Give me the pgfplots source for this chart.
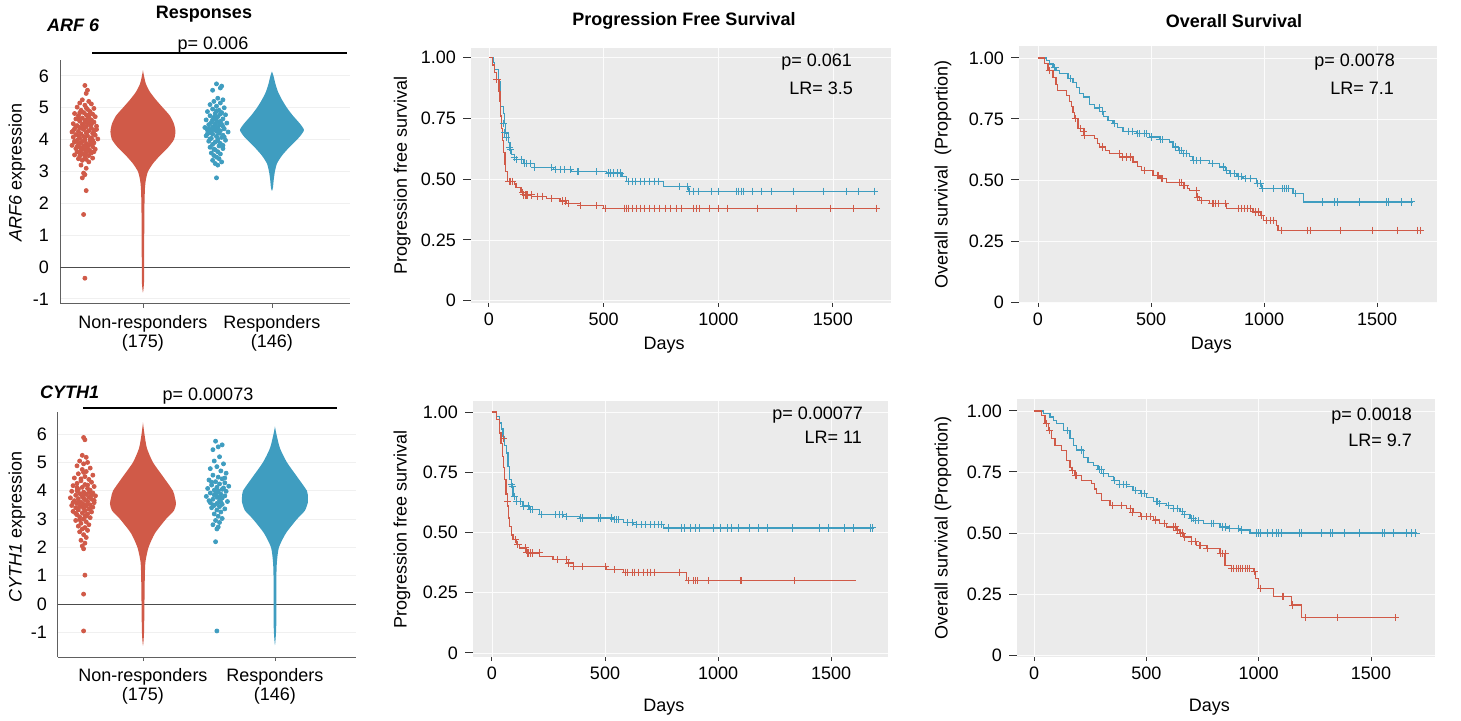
\documentclass[border=0pt]{standalone}
\usepackage{fontspec}
\setmainfont{Liberation Sans}
\usepackage{pgfplots}
\pgfplotsset{compat=1.18}

\definecolor{kmred}{HTML}{D05A48}
\definecolor{kmblue}{HTML}{3F9DC0}
\definecolor{panelbg}{HTML}{EBEBEB}
\definecolor{tickcol}{HTML}{333333}

\pgfplotsset{
  every axis/.append style={font=\fontsize{9}{10.8}\selectfont},
  km/.style={
    scale only axis, anchor=south west,
    xtick={0,500,1000,1500}, xticklabels={0,500,1000,1500},
    ytick={0,0.25,0.5,0.75,1}, yticklabels={0,0.25,0.50,0.75,1.00},
    axis background/.style={fill=panelbg},
    axis line style={draw=none},
    grid=major, major grid style={white!85!panelbg, line width=0.35pt},
    tick align=outside, tick pos=left,
    major tick length=4pt,
    xtick style={tickcol, line width=0.5pt, /pgfplots/major tick length=2pt},
    ytick style={tickcol, line width=0.5pt},
    ticklabel style={text=black},
    xticklabel style={yshift=2.5pt},
    xlabel={Days},
    /pgf/number format/assume math mode=true,
  },
  line/.style={const plot, line width=0.6pt, mark=none},
  cens/.style={only marks, mark=+, mark size=1.8pt, mark options={line width=0.5pt}},
  vio/.style={
    scale only axis, anchor=south west,
    axis x line*=bottom, axis y line*=left,
    axis line style={gray!75!black, line width=0.5pt},
    xtick={1,2}, xticklabels={{Non-responders\\(175)},{Responders\\(146)}},
    xticklabel style={align=center, font=\fontsize{9}{9.5}\selectfont},
    ytick={-1,0,...,6},
    tick align=outside, major tick length=2pt,
    xtick style={gray!75!black}, ytick style={draw=none},
    ymajorgrids, major grid style={gray!12, line width=0.5pt},
    /pgf/number format/assume math mode=true,
  },
  dots/.style={only marks, mark=*, mark size=1pt},
}

\begin{document}
\begin{tikzpicture}[font=\fontsize{9}{10.8}\selectfont]
\useasboundingbox (0,0) rectangle (730.5pt,-360.5pt);

% ---------------- A: ARF6 violin ----------------
\begin{axis}[vio, at={(30pt,-152pt)}, width=145pt, height=122pt,
  xmin=0.357, xmax=2.605, ymin=-1.16, ymax=6.5,
  ylabel={\textit{ARF6} expression},
  ylabel style={at={(axis description cs:-0.148,0.54)}, anchor=center}]
\addplot[gray!60!black, line width=0.5pt] coordinates {(0.357,0) (2.605,0)};
\addplot[fill=kmred, draw=none, smooth, tension=0.4] coordinates {
 (1,6.18)(1.008,6.0)(1.023,5.75)(1.054,5.5)(1.101,5.25)(1.155,5.0)(1.209,4.75)
 (1.240,4.5)(1.252,4.25)(1.240,4.0)(1.194,3.75)(1.132,3.5)(1.078,3.25)(1.039,3.0)
 (1.023,2.75)(1.016,2.5)(1.012,2.0)(1.010,1.0)(1.009,0.0)(1.008,-0.5)(1,-0.8)
 (0.992,-0.5)(0.991,0.0)(0.990,1.0)(0.988,2.0)(0.984,2.5)(0.977,2.75)(0.961,3.0)
 (0.922,3.25)(0.868,3.5)(0.806,3.75)(0.760,4.0)(0.748,4.25)(0.760,4.5)(0.791,4.75)
 (0.845,5.0)(0.899,5.25)(0.946,5.5)(0.977,5.75)(0.992,6.0)(1,6.18)};
\addplot[fill=kmblue, draw=none, smooth, tension=0.4] coordinates {
 (2,6.14)(2.012,6.0)(2.027,5.75)(2.047,5.5)(2.078,5.25)(2.116,5.0)(2.163,4.75)
 (2.217,4.5)(2.248,4.3)(2.217,4.1)(2.194,4.0)(2.132,3.75)(2.078,3.5)(2.039,3.25)
 (2.023,3.0)(2.014,2.75)(2.008,2.5)(2,2.39)
 (1.992,2.5)(1.986,2.75)(1.977,3.0)(1.961,3.25)(1.922,3.5)(1.868,3.75)(1.806,4.0)
 (1.783,4.1)(1.752,4.3)(1.783,4.5)(1.837,4.75)(1.884,5.0)(1.922,5.25)(1.953,5.5)
 (1.973,5.75)(1.988,6.0)(2,6.14)};
\addplot[dots, kmred] coordinates {
 (0.55,5.70)(0.57,5.55)(0.56,5.45)(0.53,5.25)(0.58,5.20)(0.51,5.15)(0.60,5.12)(0.55,5.08)
 (0.49,5.02)(0.62,4.98)(0.57,4.95)(0.52,4.92)(0.59,4.88)(0.54,4.85)(0.47,4.82)(0.61,4.80)
 (0.56,4.78)(0.50,4.75)(0.63,4.72)(0.58,4.70)(0.53,4.68)(0.48,4.65)(0.60,4.62)(0.55,4.60)
 (0.51,4.58)(0.62,4.55)(0.57,4.52)(0.46,4.50)(0.53,4.48)(0.59,4.46)(0.49,4.44)(0.64,4.42)
 (0.56,4.40)(0.51,4.38)(0.60,4.36)(0.47,4.34)(0.54,4.32)(0.62,4.30)(0.58,4.28)(0.50,4.26)
 (0.45,4.24)(0.56,4.22)(0.61,4.20)(0.52,4.18)(0.48,4.16)(0.63,4.14)(0.57,4.12)(0.54,4.10)
 (0.46,4.08)(0.60,4.06)(0.51,4.04)(0.65,4.02)(0.55,4.00)(0.49,3.98)(0.59,3.96)(0.53,3.94)
 (0.47,3.92)(0.62,3.90)(0.56,3.88)(0.50,3.86)(0.58,3.84)(0.45,3.82)(0.54,3.80)(0.61,3.78)
 (0.51,3.76)(0.57,3.74)(0.48,3.72)(0.63,3.70)(0.55,3.68)(0.52,3.66)(0.59,3.64)(0.49,3.62)
 (0.56,3.60)(0.60,3.58)(0.53,3.55)(0.47,3.52)(0.58,3.50)(0.51,3.48)(0.55,3.45)(0.61,3.42)
 (0.50,3.40)(0.56,3.38)(0.53,3.35)(0.58,3.30)(0.52,3.20)(0.56,3.10)(0.54,2.95)(0.55,2.90)
 (0.53,2.80)(0.56,2.40)(0.54,1.65)(0.55,-0.35)
 (0.52,4.90)(0.58,4.76)(0.50,4.64)(0.55,4.54)(0.60,4.48)(0.48,4.40)(0.53,4.35)(0.57,4.25)
 (0.62,4.18)(0.50,4.12)(0.55,4.05)(0.59,4.00)(0.47,3.95)(0.52,3.90)(0.60,3.86)(0.56,3.82)
 (0.49,3.78)(0.53,3.72)(0.58,3.68)(0.62,3.62)(0.51,3.57)(0.55,3.52)(0.59,4.58)(0.46,4.28)
 (0.64,4.32)(0.61,3.98)(0.54,4.44)(0.57,4.66)(0.51,4.84)(0.56,5.00)};
\addplot[dots, kmblue] coordinates {
 (1.57,5.75)(1.61,5.68)(1.60,5.62)(1.54,5.55)(1.58,5.30)(1.62,5.25)(1.55,5.20)(1.60,5.15)
 (1.52,5.10)(1.57,5.05)(1.63,5.00)(1.54,4.96)(1.59,4.92)(1.50,4.88)(1.61,4.85)(1.56,4.82)
 (1.64,4.78)(1.52,4.75)(1.58,4.72)(1.55,4.68)(1.62,4.65)(1.49,4.62)(1.57,4.60)(1.60,4.57)
 (1.53,4.54)(1.65,4.52)(1.56,4.50)(1.51,4.47)(1.59,4.45)(1.62,4.42)(1.54,4.40)(1.48,4.38)
 (1.58,4.36)(1.63,4.34)(1.55,4.32)(1.50,4.30)(1.60,4.28)(1.57,4.26)(1.66,4.24)(1.52,4.22)
 (1.59,4.20)(1.54,4.17)(1.62,4.14)(1.49,4.12)(1.57,4.10)(1.61,4.07)(1.53,4.04)(1.58,4.01)
 (1.64,3.98)(1.51,3.95)(1.56,3.92)(1.60,3.88)(1.54,3.85)(1.59,3.80)(1.52,3.76)(1.62,3.72)
 (1.56,3.68)(1.58,3.62)(1.53,3.58)(1.60,3.55)(1.55,3.50)(1.57,3.45)(1.59,3.40)(1.54,3.35)
 (1.61,3.30)(1.56,3.25)(1.58,3.20)(1.57,2.80)
 (1.55,4.70)(1.61,4.48)(1.51,4.35)(1.59,4.55)(1.53,4.27)(1.63,4.08)(1.56,4.44)(1.50,4.18)
 (1.58,3.96)(1.54,4.62)(1.60,4.80)(1.57,4.90)(1.52,4.02)(1.62,3.82)(1.55,3.70)};
\end{axis}

% ---------------- D: CYTH1 violin ----------------
\begin{axis}[vio, at={(29pt,-328.5pt)}, width=149pt, height=122.5pt,
  xmin=0.356, xmax=2.614, ymin=-1.87, ymax=6.78,
  ylabel={\textit{CYTH1} expression},
  ylabel style={at={(axis description cs:-0.138,0.53)}, anchor=center}]
\addplot[gray!60!black, line width=0.5pt] coordinates {(0.356,0) (2.614,0)};
\addplot[fill=kmred, draw=none, smooth, tension=0.4] coordinates {
 (1,6.41)(1.011,6.0)(1.030,5.5)(1.076,5.0)(1.152,4.5)(1.227,4.0)(1.242,3.75)(1.250,3.55)
 (1.235,3.3)(1.174,3.0)(1.091,2.5)(1.042,2.0)(1.019,1.5)(1.014,1.0)(1.011,0.0)(1.008,-1.0)(1,-1.47)
 (0.992,-1.0)(0.989,0.0)(0.986,1.0)(0.981,1.5)(0.958,2.0)(0.909,2.5)(0.826,3.0)(0.765,3.3)
 (0.750,3.55)(0.758,3.75)(0.773,4.0)(0.848,4.5)(0.924,5.0)(0.970,5.5)(0.989,6.0)(1,6.41)};
\addplot[fill=kmblue, draw=none, smooth, tension=0.4] coordinates {
 (2,6.27)(2.011,6.0)(2.038,5.5)(2.091,5.0)(2.167,4.5)(2.242,4.0)(2.250,3.75)(2.250,3.6)
 (2.227,3.3)(2.167,3.0)(2.083,2.5)(2.030,2.0)(2.015,1.5)(2.011,1.0)(2.010,0.0)(2.011,-0.5)
 (2.008,-1.0)(2,-1.45)
 (1.992,-1.0)(1.989,-0.5)(1.990,0.0)(1.989,1.0)(1.985,1.5)(1.970,2.0)(1.917,2.5)(1.833,3.0)
 (1.773,3.3)(1.750,3.6)(1.750,3.75)(1.758,4.0)(1.833,4.5)(1.909,5.0)(1.962,5.5)(1.989,6.0)(2,6.27)};
\addplot[dots, kmred] coordinates {
 (0.55,5.88)(0.56,5.80)(0.54,5.25)(0.57,5.18)(0.52,5.05)(0.58,5.00)(0.55,4.95)(0.50,4.88)
 (0.60,4.80)(0.54,4.75)(0.57,4.68)(0.51,4.60)(0.62,4.55)(0.56,4.50)(0.48,4.45)(0.59,4.40)
 (0.53,4.35)(0.61,4.30)(0.50,4.26)(0.56,4.22)(0.47,4.18)(0.63,4.15)(0.54,4.12)(0.58,4.08)
 (0.51,4.05)(0.60,4.02)(0.46,3.98)(0.55,3.95)(0.62,3.92)(0.52,3.90)(0.57,3.87)(0.49,3.84)
 (0.64,3.82)(0.54,3.80)(0.59,3.77)(0.45,3.75)(0.51,3.72)(0.61,3.70)(0.56,3.68)(0.48,3.65)
 (0.58,3.62)(0.53,3.60)(0.63,3.58)(0.50,3.55)(0.55,3.52)(0.60,3.50)(0.46,3.48)(0.57,3.46)
 (0.52,3.44)(0.62,3.42)(0.49,3.40)(0.55,3.38)(0.59,3.35)(0.51,3.32)(0.56,3.30)(0.47,3.27)
 (0.61,3.25)(0.54,3.22)(0.58,3.18)(0.50,3.15)(0.56,3.12)(0.52,3.08)(0.60,3.05)(0.55,3.00)
 (0.49,2.95)(0.57,2.90)(0.53,2.85)(0.59,2.80)(0.51,2.75)(0.56,2.70)(0.54,2.65)(0.58,2.60)
 (0.52,2.55)(0.55,2.45)(0.57,2.35)(0.53,2.25)(0.56,2.15)(0.54,2.05)(0.55,1.95)(0.56,1.02)
 (0.55,0.35)(0.55,-0.95)
 (0.53,4.42)(0.58,4.20)(0.50,4.00)(0.61,3.85)(0.55,3.74)(0.47,3.58)(0.58,3.54)(0.53,3.46)
 (0.60,3.36)(0.51,3.60)(0.56,3.90)(0.63,3.66)(0.49,3.20)(0.57,3.10)(0.52,2.98)(0.55,4.65)
 (0.50,4.12)(0.59,3.94)};
\addplot[dots, kmblue] coordinates {
 (1.55,5.75)(1.60,5.62)(1.57,5.55)(1.53,5.45)(1.58,5.20)(1.54,5.05)(1.61,4.95)(1.56,4.85)
 (1.51,4.78)(1.59,4.70)(1.63,4.62)(1.53,4.55)(1.57,4.48)(1.60,4.42)(1.50,4.38)(1.55,4.32)
 (1.62,4.28)(1.58,4.24)(1.52,4.20)(1.65,4.16)(1.56,4.12)(1.49,4.08)(1.60,4.05)(1.54,4.02)
 (1.63,3.98)(1.57,3.95)(1.51,3.92)(1.59,3.88)(1.55,3.85)(1.62,3.82)(1.48,3.80)(1.56,3.77)
 (1.60,3.74)(1.53,3.70)(1.58,3.66)(1.64,3.62)(1.51,3.58)(1.56,3.55)(1.60,3.52)(1.54,3.48)
 (1.58,3.44)(1.52,3.40)(1.62,3.36)(1.56,3.32)(1.59,3.25)(1.54,3.18)(1.57,3.10)(1.60,3.02)
 (1.55,2.95)(1.58,2.88)(1.53,2.80)(1.57,2.72)(1.56,2.65)(1.55,2.20)(1.56,-0.95)
 (1.52,4.30)(1.61,4.10)(1.55,3.90)(1.50,3.65)(1.59,3.60)(1.54,3.85)(1.62,4.45)(1.57,4.00)
 (1.53,3.50)(1.58,3.78)};
\end{axis}

% ---------------- B: PFS ARF6 ----------------
\begin{axis}[km, at={(235.5pt,-151.5pt)}, width=210pt, height=127.5pt,
  xmin=-78, xmax=1753, ymin=-0.01, ymax=1.04,
  ylabel={Progression free survival},
  ylabel style={at={(axis description cs:-0.164,0.5)}, anchor=center},
  xlabel style={at={(axis description cs:0.46,0)}, anchor=center, yshift=-21pt}]
\addplot[line, kmblue] coordinates {
 (0,1)(20,0.98)(26,0.95)(41,0.90)(48,0.85)(51,0.80)(62,0.77)(68,0.73)(74,0.69)(84,0.65)
 (92,0.62)(99,0.60)(113,0.58)(150,0.566)(200,0.548)(280,0.54)(360,0.53)(513,0.525)
 (580,0.51)(600,0.49)(760,0.47)(869,0.45)(1688,0.45)};
\addplot[cens, kmblue] coordinates {
 (64,0.73)(70,0.69)(78,0.67)(90,0.63)(95,0.62)(110,0.59)(120,0.58)(140,0.58)(155,0.566)
 (165,0.566)(180,0.566)(200,0.548)(275,0.548)(290,0.54)(310,0.54)(330,0.54)(355,0.54)
 (385,0.53)(390,0.53)(470,0.53)(520,0.525)(530,0.525)(545,0.525)(560,0.525)(575,0.525)
 (610,0.49)(625,0.49)(640,0.49)(660,0.49)(680,0.49)(700,0.49)(720,0.49)(740,0.49)
 (830,0.47)(865,0.47)(875,0.45)(890,0.45)(915,0.45)(970,0.45)(1000,0.45)(1080,0.45)
 (1090,0.45)(1100,0.45)(1110,0.45)(1150,0.45)(1190,0.45)(1230,0.45)(1330,0.45)(1460,0.45)
 (1560,0.45)(1610,0.45)(1682,0.45)};
\addplot[line, kmred] coordinates {
 (0,1)(15,0.97)(26,0.94)(33,0.91)(44,0.86)(48,0.82)(52,0.76)(56,0.71)(60,0.66)(65,0.61)
 (70,0.56)(74,0.53)(80,0.49)(110,0.48)(118,0.465)(140,0.445)(150,0.435)(186,0.43)
 (250,0.42)(310,0.41)(340,0.40)(400,0.39)(500,0.38)(1690,0.38)};
\addplot[cens, kmred] coordinates {
 (35,0.91)(88,0.49)(95,0.49)(102,0.49)(148,0.445)(153,0.435)(158,0.435)(162,0.435)
 (168,0.435)(185,0.435)(210,0.43)(235,0.43)(275,0.42)(320,0.41)(335,0.41)(345,0.40)
 (400,0.39)(470,0.39)(510,0.38)(590,0.38)(600,0.38)(610,0.38)(625,0.38)(645,0.38)
 (660,0.38)(680,0.38)(700,0.38)(720,0.38)(745,0.38)(770,0.38)(790,0.38)(820,0.38)
 (840,0.38)(890,0.38)(905,0.38)(920,0.38)(960,0.38)(1000,0.38)(1040,0.38)(1170,0.38)
 (1340,0.38)(1490,0.38)(1590,0.38)(1690,0.38)};
\end{axis}

% ---------------- C: OS ARF6 ----------------
\begin{axis}[km, at={(509.5pt,-151.5pt)}, width=209pt, height=128.5pt,
  xmin=-84, xmax=1765, ymin=-0.004, ymax=1.049,
  ylabel={Overall survival\ \ (Proportion)},
  ylabel style={at={(axis description cs:-0.182,0.5)}, anchor=center},
  xlabel style={at={(axis description cs:0.46,0)}, anchor=center, yshift=-21pt}]
\addplot[line, kmblue] coordinates {
 (0,1)(37,0.99)(50,0.975)(66,0.96)(80,0.95)(96,0.936)(133,0.915)(155,0.90)(170,0.88)
 (184,0.854)(200,0.84)(229,0.81)(250,0.795)(273,0.78)(288,0.76)(310,0.745)(332,0.73)
 (350,0.715)(376,0.70)(435,0.69)(494,0.676)(540,0.665)(583,0.656)(597,0.635)(620,0.62)
 (642,0.61)(670,0.595)(686,0.58)(760,0.567)(804,0.553)(830,0.54)(848,0.526)(880,0.515)
 (907,0.505)(966,0.485)(988,0.464)(1128,0.444)(1173,0.41)(1659,0.41)};
\addplot[cens, kmblue] coordinates {
 (75,0.96)(145,0.915)(270,0.795)(285,0.78)(340,0.73)(400,0.70)(420,0.70)(440,0.69)
 (450,0.69)(470,0.69)(480,0.69)(500,0.676)(540,0.665)(550,0.665)(610,0.635)(625,0.62)
 (635,0.62)(645,0.61)(655,0.61)(690,0.58)(700,0.58)(720,0.58)(770,0.567)(820,0.553)
 (835,0.54)(850,0.526)(870,0.526)(885,0.515)(900,0.515)(920,0.505)(940,0.505)(970,0.485)
 (985,0.485)(995,0.464)(1040,0.464)(1080,0.464)(1090,0.464)(1100,0.464)(1110,0.464)
 (1140,0.444)(1260,0.41)(1310,0.41)(1325,0.41)(1420,0.41)(1540,0.41)(1550,0.41)
 (1610,0.41)(1650,0.41)};
\addplot[line, kmred] coordinates {
 (0,1)(29,0.977)(44,0.95)(66,0.92)(80,0.89)(88,0.867)(125,0.847)(140,0.82)(147,0.80)
 (155,0.775)(162,0.751)(177,0.71)(206,0.683)(251,0.669)(262,0.65)(273,0.635)(300,0.62)
 (317,0.608)(361,0.594)(420,0.574)(440,0.555)(457,0.54)(509,0.52)(540,0.505)(568,0.49)
 (642,0.478)(660,0.465)(671,0.458)(700,0.43)(715,0.417)(760,0.403)(833,0.383)(951,0.369)
 (985,0.355)(996,0.335)(1055,0.314)(1062,0.294)(1689,0.294)};
\addplot[cens, kmred] coordinates {
 (50,0.95)(165,0.751)(190,0.71)(200,0.70)(205,0.683)(285,0.635)(360,0.608)(375,0.594)
 (390,0.594)(410,0.594)(470,0.54)(530,0.52)(535,0.52)(545,0.505)(550,0.505)(625,0.49)
 (635,0.49)(645,0.478)(650,0.478)(700,0.458)(705,0.43)(725,0.417)(770,0.403)(775,0.403)
 (785,0.403)(800,0.403)(830,0.403)(885,0.383)(900,0.383)(915,0.383)(925,0.383)(940,0.383)
 (960,0.369)(975,0.369)(990,0.355)(1010,0.335)(1030,0.335)(1040,0.335)(1075,0.294)
 (1190,0.294)(1205,0.294)(1340,0.294)(1480,0.294)(1590,0.294)(1680,0.294)(1690,0.294)};
\end{axis}

% ---------------- E: PFS CYTH1 ----------------
\begin{axis}[km, at={(236.5pt,-328.5pt)}, width=207.5pt, height=128pt,
  xmin=-84, xmax=1752, ymin=-0.017, ymax=1.046,
  ylabel={Progression free survival},
  ylabel style={at={(axis description cs:-0.171,0.5)}, anchor=center},
  xlabel style={at={(axis description cs:0.46,0)}, anchor=center, yshift=-25pt}]
\addplot[line, kmblue] coordinates {
 (0,1)(19,0.98)(34,0.955)(42,0.93)(49,0.90)(57,0.86)(64,0.83)(71,0.775)(78,0.72)(86,0.69)
 (93,0.65)(108,0.63)(137,0.61)(167,0.595)(211,0.574)(315,0.567)(389,0.56)(536,0.553)
 (581,0.54)(625,0.532)(758,0.519)(1689,0.519)};
\addplot[cens, kmblue] coordinates {
 (85,0.70)(90,0.69)(100,0.65)(110,0.63)(125,0.63)(140,0.61)(160,0.61)(170,0.595)(180,0.595)
 (220,0.574)(280,0.574)(300,0.574)(310,0.574)(330,0.567)(390,0.56)(400,0.56)(470,0.56)
 (480,0.56)(530,0.56)(540,0.553)(550,0.553)(560,0.553)(600,0.54)(620,0.54)(640,0.532)
 (660,0.532)(680,0.532)(700,0.532)(720,0.532)(735,0.532)(750,0.532)(780,0.519)(840,0.519)
 (850,0.519)(880,0.519)(900,0.519)(920,0.519)(980,0.519)(1010,0.519)(1040,0.519)
 (1060,0.519)(1090,0.519)(1140,0.519)(1180,0.519)(1220,0.519)(1330,0.519)(1450,0.519)
 (1490,0.519)(1560,0.519)(1600,0.519)(1675,0.519)(1685,0.519)};
\addplot[line, kmred] coordinates {
 (0,1)(19,0.97)(34,0.913)(40,0.87)(46,0.816)(52,0.77)(56,0.72)(62,0.66)(68,0.61)(73,0.56)
 (78,0.525)(85,0.49)(93,0.47)(108,0.45)(123,0.436)(152,0.415)(211,0.40)(270,0.387)
 (330,0.373)(359,0.36)(507,0.346)(581,0.335)(862,0.30)(1611,0.30)};
\addplot[cens, kmred] coordinates {
 (50,0.89)(70,0.63)(103,0.47)(115,0.45)(148,0.436)(155,0.415)(160,0.415)(170,0.415)
 (180,0.415)(210,0.415)(290,0.387)(330,0.387)(340,0.373)(360,0.36)(400,0.36)(500,0.36)
 (540,0.346)(590,0.335)(600,0.335)(620,0.335)(630,0.335)(650,0.335)(670,0.335)(690,0.335)
 (700,0.335)(720,0.335)(830,0.335)(870,0.30)(890,0.30)(900,0.30)(910,0.30)(960,0.30)
 (1100,0.30)(1105,0.30)(1340,0.30)};
\end{axis}

% ---------------- F: OS CYTH1 ----------------
\begin{axis}[km, at={(508.5pt,-328.5pt)}, width=209pt, height=129pt,
  xmin=-76, xmax=1785, ymin=-0.008, ymax=1.049,
  ylabel={Overall survival (Proportion)},
  ylabel style={at={(axis description cs:-0.177,0.5)}, anchor=center},
  xlabel style={at={(axis description cs:0.46,0)}, anchor=center, yshift=-25pt}]
\addplot[line, kmblue] coordinates {
 (0,1)(42,0.99)(71,0.975)(85,0.96)(101,0.948)(131,0.92)(160,0.887)(175,0.86)(190,0.84)
 (220,0.81)(240,0.79)(264,0.778)(285,0.76)(309,0.744)(330,0.73)(353,0.716)(380,0.70)
 (412,0.689)(440,0.675)(472,0.662)(500,0.645)(531,0.628)(560,0.62)(591,0.614)(620,0.60)
 (650,0.587)(670,0.575)(694,0.559)(720,0.55)(754,0.539)(828,0.525)(870,0.52)(917,0.512)
 (961,0.50)(1703,0.50)};
\addplot[cens, kmblue] coordinates {
 (150,0.92)(210,0.84)(290,0.76)(300,0.76)(310,0.744)(360,0.716)(380,0.70)(400,0.70)
 (410,0.70)(450,0.675)(480,0.662)(490,0.662)(545,0.628)(550,0.628)(560,0.62)(600,0.614)
 (620,0.60)(640,0.60)(660,0.587)(670,0.575)(700,0.559)(710,0.559)(720,0.55)(730,0.55)
 (790,0.539)(800,0.539)(840,0.525)(850,0.525)(870,0.52)(910,0.52)(925,0.512)(990,0.50)
 (1000,0.50)(1010,0.50)(1040,0.50)(1060,0.50)(1080,0.50)(1090,0.50)(1100,0.50)(1180,0.50)
 (1190,0.50)(1280,0.50)(1320,0.50)(1330,0.50)(1380,0.50)(1450,0.50)(1550,0.50)(1560,0.50)
 (1600,0.50)(1660,0.50)(1680,0.50)(1700,0.50)};
\addplot[line, kmred] coordinates {
 (0,1)(34,0.98)(49,0.948)(64,0.92)(79,0.887)(93,0.86)(123,0.839)(145,0.798)(160,0.77)
 (168,0.757)(182,0.737)(212,0.716)(257,0.703)(270,0.68)(279,0.662)(301,0.634)(338,0.614)
 (412,0.60)(440,0.585)(472,0.566)(531,0.553)(560,0.54)(591,0.525)(635,0.512)(650,0.50)
 (665,0.484)(700,0.465)(724,0.45)(769,0.437)(828,0.416)(850,0.368)(880,0.355)(976,0.341)
 (984,0.314)(999,0.273)(1065,0.241)(1147,0.205)(1191,0.153)(1614,0.153)};
\addplot[cens, kmred] coordinates {
 (55,0.948)(70,0.92)(170,0.757)(185,0.737)(190,0.737)(350,0.614)(390,0.614)(430,0.60)
 (440,0.585)(480,0.566)(500,0.566)(520,0.566)(540,0.553)(580,0.54)(620,0.525)(630,0.525)
 (640,0.512)(650,0.50)(660,0.50)(670,0.484)(700,0.465)(720,0.465)(735,0.45)(740,0.45)
 (770,0.437)(830,0.416)(840,0.416)(850,0.416)(880,0.355)(890,0.355)(900,0.355)(910,0.355)
 (920,0.355)(930,0.355)(940,0.355)(950,0.355)(960,0.355)(980,0.341)(1010,0.273)(1105,0.241)
 (1110,0.241)(1150,0.205)(1210,0.153)(1350,0.153)(1610,0.153)};
\end{axis}

% ---------------- annotations ----------------
\node[font=\fontsize{9}{10.8}\selectfont\bfseries] at (102pt,-7pt) {Responses};
\node[anchor=west, font=\fontsize{9}{10.8}\selectfont\bfseries\itshape] at (20pt,-12.5pt) {ARF 6};
\node at (106.5pt,-22.5pt) {p= 0.006};
\draw[line width=0.8pt] (46pt,-26.5pt) -- (173.5pt,-26.5pt);
\node[anchor=west, font=\fontsize{9}{10.8}\selectfont\bfseries\itshape] at (16.5pt,-196pt) {CYTH1};
\node at (104pt,-198pt) {p= 0.00073};
\draw[line width=0.8pt] (41.5pt,-204pt) -- (168.5pt,-204pt);
\node[font=\fontsize{9}{10.8}\selectfont\bfseries] at (342pt,-10.5pt) {Progression Free Survival};
\node[font=\fontsize{9}{10.8}\selectfont\bfseries] at (617pt,-10.5pt) {Overall Survival};
\node[anchor=east] at (429.5pt,-31pt) {p= 0.061};
\node[anchor=east] at (430pt,-44pt) {LR= 3.5};
\node[anchor=east] at (701pt,-31pt) {p= 0.0078};
\node[anchor=east] at (700.5pt,-44pt) {LR= 7.1};
\node[anchor=east] at (435pt,-207.5pt) {p= 0.00077};
\node[anchor=east] at (434.5pt,-218.5pt) {LR= 11};
\node[anchor=east] at (709.5pt,-208pt) {p= 0.0018};
\node[anchor=east] at (709.5pt,-220pt) {LR= 9.7};
\end{tikzpicture}
\end{document}
